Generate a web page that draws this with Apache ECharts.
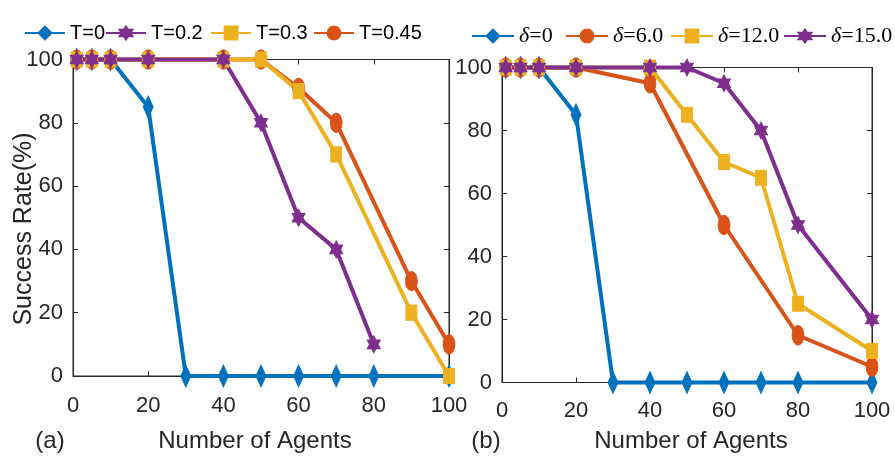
<!DOCTYPE html>
<html><head><meta charset="utf-8">
<script src="https://cdn.jsdelivr.net/npm/echarts@6/dist/echarts.min.js"></script>
<style>html,body{margin:0;padding:0;background:#fff}#c{width:895px;height:456px}</style>
</head><body><div id="c"></div>
<script>
// ---------- data ----------
const xTickInterval = 20;
// panel (a)
const aNames = ['T=0', 'T=0.2', 'T=0.3', 'T=0.45'];
const aX_T0   = [1, 5, 10, 20, 30, 40, 50, 60, 70, 80, 100];
const aY_T0   = [100, 100, 100, 85, 0, 0, 0, 0, 0, 0, 0];
const aX_T02  = [1, 5, 10, 20, 40, 50, 60, 70, 80];
const aY_T02  = [100, 100, 100, 100, 100, 80, 50, 40, 10];
const aX_T03  = [1, 5, 10, 20, 40, 50, 60, 70, 90, 100];
const aY_T03  = [100, 100, 100, 100, 100, 100, 90, 70, 20, 0];
const aX_T045 = [1, 5, 10, 20, 40, 50, 60, 70, 90, 100];
const aY_T045 = [100, 100, 100, 100, 100, 100, 91, 80, 30, 10];
// panel (b)
const bNames = ['δ=0', 'δ=6.0', 'δ=12.0', 'δ=15.0'];
const bX_d0  = [1, 5, 10, 20, 30, 40, 50, 60, 70, 80, 100];
const bY_d0  = [100, 100, 100, 85, 0, 0, 0, 0, 0, 0, 0];
const bX_d6  = [1, 5, 10, 20, 40, 60, 80, 100];
const bY_d6  = [100, 100, 100, 100, 95, 50, 15, 5];
const bX_d12 = [1, 5, 10, 20, 40, 50, 60, 70, 80, 100];
const bY_d12 = [100, 100, 100, 100, 100, 85, 70, 65, 25, 10];
const bX_d15 = [1, 5, 10, 20, 40, 50, 60, 70, 80, 100];
const bY_d15 = [100, 100, 100, 100, 100, 100, 95, 80, 50, 20];

// ---------- styles ----------
const C = {blue:'#0072BD', orange:'#D95319', yellow:'#EDB120', purple:'#7E2F8E'};
const AX = '#262626';
const SANS = 'Liberation Sans, Arial, sans-serif';
const SERIF = 'Liberation Serif, Times New Roman, serif';
const HEX = 'path://M0,-10 L2.9,-5 L8.66,-5 L5.77,0 L8.66,5 L2.9,5 L0,10 L-2.9,5 L-8.66,5 L-5.77,0 L-8.66,-5 L-2.9,-5 Z';
const SYM = {
  blue:   {symbol:'diamond', symbolSize:[10,22]},
  orange: {symbol:'circle',  symbolSize:[12,19]},
  yellow: {symbol:'rect',    symbolSize:[11,15]},
  purple: {symbol:HEX,       symbolSize:[13,17]}
};
const zip = (xs, ys) => xs.map((x, i) => [x, ys[i]]);

function ser(name, xs, ys, col, gi) {
  return {
    name, type:'line', xAxisIndex:gi, yAxisIndex:gi, data: zip(xs, ys),
    symbol: SYM[col].symbol, symbolSize: SYM[col].symbolSize, showSymbol:true,
    clip:false, animation:false,
    lineStyle:{color:C[col], width:4},
    itemStyle:{color:C[col], borderColor:C[col], borderWidth:1}
  };
}
// empty series bound to the mirror (top/right) axes so they render
function mirror(gi) {
  return {type:'line', xAxisIndex:gi, yAxisIndex:gi, data:[], silent:true, animation:false};
}

function axesFor(gi, labelMarginX) {
  const common = {
    gridIndex: gi, type:'value', min:0, max:100, interval:xTickInterval,
    axisLine:{show:true, onZero:false, lineStyle:{color:AX, width:1}},
    axisTick:{show:true, inside:true, length:5, lineStyle:{color:AX}},
    splitLine:{show:false}
  };
  const xs = [
    Object.assign({}, common, {position:'bottom',
      axisLabel:{show:true, color:AX, fontFamily:SANS, fontSize:22, margin:labelMarginX}}),
    Object.assign({}, common, {position:'top', axisLabel:{show:false}})
  ];
  const ys = [
    Object.assign({}, common, {position:'left',
      axisLabel:{show:true, color:AX, fontFamily:SANS, fontSize:22, margin:10}}),
    Object.assign({}, common, {position:'right', axisLabel:{show:false}})
  ];
  return {xs, ys};
}

const A = axesFor(0, 19);
const B = axesFor(1, 17);

function leg(name, left, top, iw, textStyle, formatter) {
  const l = {
    data:[name], left, top, orient:'horizontal',
    itemWidth:iw, itemHeight:16, itemGap:0,
    textStyle, selectedMode:false
  };
  if (formatter) l.formatter = formatter;
  return l;
}
const aText = {fontFamily:SANS, fontSize:20, color:'#000'};
const bText = {fontFamily:SERIF, fontSize:22, color:'#000',
  rich:{i:{fontFamily:SERIF, fontStyle:'italic', fontSize:22, color:'#000'},
        n:{fontFamily:SERIF, fontSize:22, color:'#000'}}};
const bFmt = n => '{i|δ}{n|' + n.slice(1) + '}';

const option = {
  backgroundColor:'#fff',
  animation:false,
  grid:[
    {left:73, top:59.5, width:376, height:316.5, show:true, borderColor:AX, borderWidth:1, backgroundColor:'transparent'},
    {left:502, top:67.5, width:370, height:315, show:true, borderColor:AX, borderWidth:1, backgroundColor:'transparent'}
  ],
  xAxis:[A.xs[0], A.xs[1], B.xs[0], B.xs[1]],
  yAxis:[A.ys[0], A.ys[1], B.ys[0], B.ys[1]],
  legend:[
    leg(aNames[0], 19, 18, 40, aText),
    leg(aNames[1], 100, 18, 40, aText),
    leg(aNames[2], 205, 18, 40, aText),
    leg(aNames[3], 308, 18, 40, aText),
    leg(bNames[0], 466, 20, 42, bText, bFmt),
    leg(bNames[1], 560, 20, 42, bText, bFmt),
    leg(bNames[2], 665, 20, 42, bText, bFmt),
    leg(bNames[3], 778, 20, 42, bText, bFmt)
  ],
  series:[
    mirror(1), mirror(3),
    // panel (a): draw order blue, orange, yellow, purple
    ser(aNames[0], aX_T0, aY_T0, 'blue', 0),
    ser(aNames[3], aX_T045, aY_T045, 'orange', 0),
    ser(aNames[2], aX_T03, aY_T03, 'yellow', 0),
    ser(aNames[1], aX_T02, aY_T02, 'purple', 0),
    // panel (b): axes index 2 = bottom x / left y of grid 1
    ser(bNames[0], bX_d0, bY_d0, 'blue', 2),
    ser(bNames[1], bX_d6, bY_d6, 'orange', 2),
    ser(bNames[2], bX_d12, bY_d12, 'yellow', 2),
    ser(bNames[3], bX_d15, bY_d15, 'purple', 2)
  ],
  graphic:[
    {type:'text', x:255, y:441, style:{text:'Number of Agents', fontFamily:SANS, fontSize:24, fill:AX, align:'center', verticalAlign:'middle'}},
    {type:'text', x:691, y:441, style:{text:'Number of Agents', fontFamily:SANS, fontSize:24, fill:AX, align:'center', verticalAlign:'middle'}},
    {type:'text', x:50, y:441, style:{text:'(a)', fontFamily:SANS, fontSize:24, fill:AX, align:'center', verticalAlign:'middle'}},
    {type:'text', x:486, y:441, style:{text:'(b)', fontFamily:SANS, fontSize:24, fill:AX, align:'center', verticalAlign:'middle'}},
    {type:'text', x:24, y:229, rotation:Math.PI/2, style:{text:'Success Rate(%)', fontFamily:SANS, fontSize:25, fill:AX, align:'center', verticalAlign:'middle'}}
  ]
};
const chart = echarts.init(document.getElementById('c'), null, {renderer:'canvas'});
chart.setOption(option);
</script>
</body></html>
